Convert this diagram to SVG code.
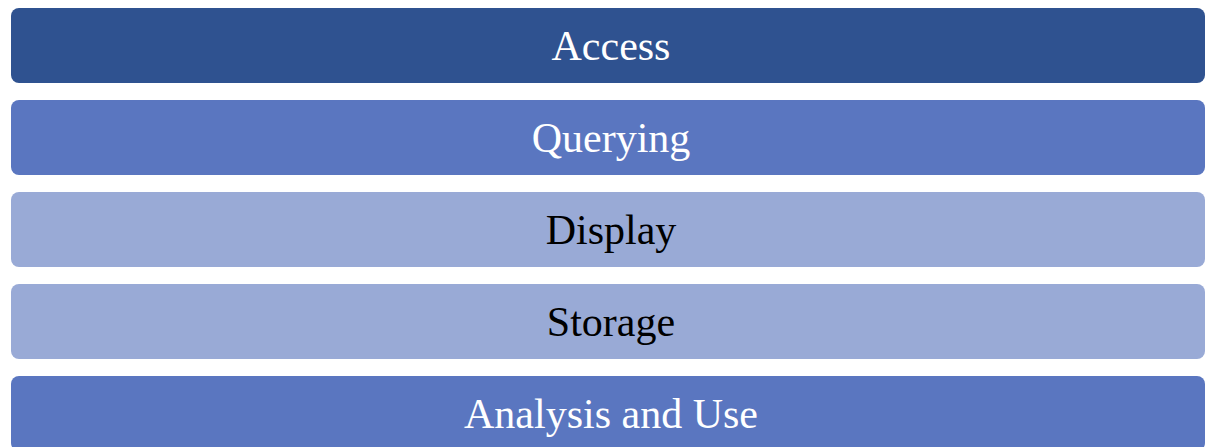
<svg xmlns="http://www.w3.org/2000/svg" width="1206" height="447" viewBox="0 0 1206 447">
<style>
.bar{stroke:none}
.t{font-family:"Liberation Serif","DejaVu Serif",serif;font-size:42px;text-anchor:middle}
.w{fill:#ffffff}
.k{fill:#000000}
</style>
<rect width="1206" height="447" fill="#ffffff"/>
<g id="access"><rect class="bar" x="11" y="8" width="1194" height="75" rx="8" fill="#2F5290"/><text class="t w" x="611" y="60">Access</text></g>
<g id="querying"><rect class="bar" x="11" y="100" width="1194" height="75" rx="8" fill="#5A76C0"/><text class="t w" x="611" y="152">Querying</text></g>
<g id="display"><rect class="bar" x="11" y="192" width="1194" height="75" rx="8" fill="#99AAD6"/><text class="t k" x="611" y="244">Display</text></g>
<g id="storage"><rect class="bar" x="11" y="284" width="1194" height="75" rx="8" fill="#99AAD6"/><text class="t k" x="611" y="336">Storage</text></g>
<g id="analysis"><rect class="bar" x="11" y="376" width="1194" height="75" rx="8" fill="#5A76C0"/><text class="t w" x="611" y="428">Analysis and Use</text></g>
<g id="connectors"></g>
</svg>
